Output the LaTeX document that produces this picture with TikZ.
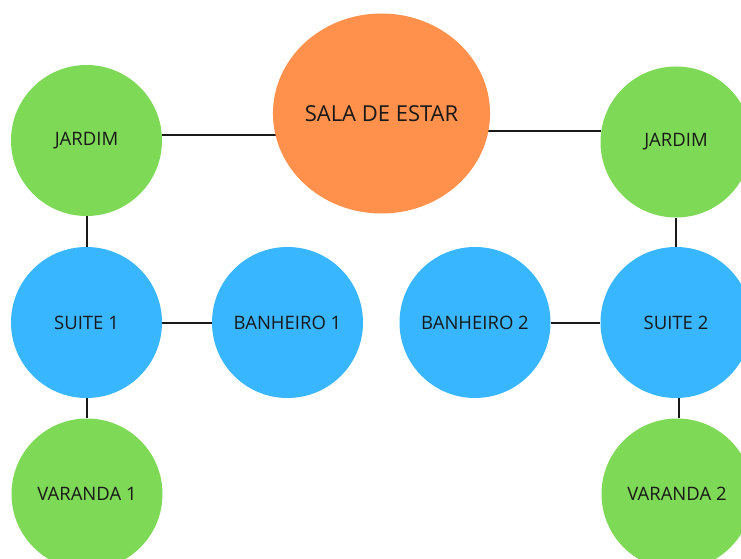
\documentclass[tikz,border=0pt]{standalone}
\usepackage{fontspec}
\setmainfont{Open Sans}
\usetikzlibrary{shapes.geometric, backgrounds}
\definecolor{salaorange}{HTML}{FF914D}
\definecolor{roomgreen}{HTML}{7ED957}
\definecolor{roomblue}{HTML}{38B6FF}
\tikzset{
  room/.style={circle, minimum size=151pt, inner sep=0pt, text=black!90,
    font=\fontsize{18.5}{22}\selectfont},
  outside/.style={room, fill=roomgreen},
  inside/.style={room, fill=roomblue},
  link/.style={line width=2pt, black!90}
}
\begin{document}
\begin{tikzpicture}[x=1pt, y=-1pt]
    \useasboundingbox (0,0) rectangle (741,559);
    \clip (0,0) rectangle (741,559);
    \node[ellipse, fill=salaorange, minimum width=210pt, minimum height=200pt,
      inner sep=0pt, text=black!90, font=\fontsize{22}{26}\selectfont]
      (sala) at (381.5,113.5) {SALA DE ESTAR};
    \node[outside] (jardim1) at (86.5,140.5) {JARDIM};
    \node[outside] (jardim2) at (676,142) {JARDIM};
    \node[inside] (suite1) at (86.5,322.5) {SUITE 1};
    \node[inside] (banho1) at (287.5,322.5) {BANHEIRO 1};
    \node[inside] (banho2) at (475,322.5) {BANHEIRO 2};
    \node[inside] (suite2) at (676,322.5) {SUITE 2};
    \node[outside] (varanda1) at (87,494) {VARANDA 1};
    \node[outside] (varanda2) at (677,494) {VARANDA 2};
    % links behind the rooms
    \begin{scope}[on background layer]
      \draw[link] (jardim1.4) -- (jardim1.4 -| sala.center);
      \draw[link] (jardim2.172) -- (jardim2.172 -| sala.center);
      \draw[link] (jardim1) -- (suite1);
      \draw[link] (jardim2) -- (suite2);
      \draw[link] (suite1) -- (banho1);
      \draw[link] (banho2) -- (suite2);
      \draw[link] (varanda1.north) -- (varanda1.north |- suite1.center);
      \draw[link] ([xshift=2pt]varanda2.north) -- ([xshift=2pt]varanda2.north |- suite2.center);
    \end{scope}
\end{tikzpicture}
\end{document}
